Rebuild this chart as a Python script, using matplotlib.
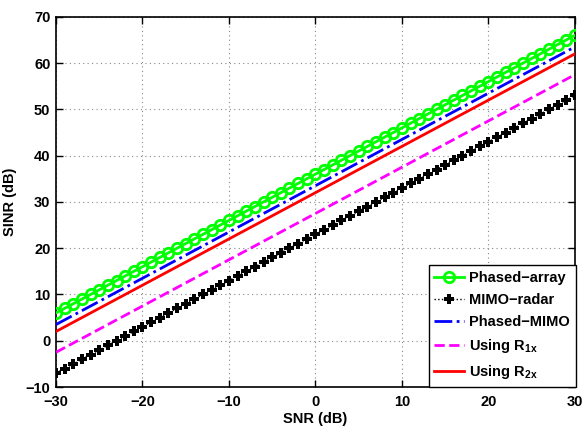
import matplotlib
matplotlib.use("Agg")
import matplotlib.pyplot as plt

plt.rcParams['font.family'] = ['Liberation Sans', 'DejaVu Sans']
plt.rcParams['font.weight'] = 'bold'
plt.rcParams['mathtext.fontset'] = 'custom'
plt.rcParams['mathtext.rm'] = 'Liberation Sans:bold'
plt.rcParams['mathtext.bf'] = 'Liberation Sans:bold'
plt.rcParams['mathtext.it'] = 'Liberation Sans:bold'
plt.rcParams['mathtext.default'] = 'bf'

snr = [-30, -29, -28, -27, -26, -25, -24, -23, -22, -21, -20, -19, -18, -17, -16, -15,
       -14, -13, -12, -11, -10, -9, -8, -7, -6, -5, -4, -3, -2, -1, 0, 1, 2, 3, 4, 5,
       6, 7, 8, 9, 10, 11, 12, 13, 14, 15, 16, 17, 18, 19, 20, 21, 22, 23, 24, 25, 26,
       27, 28, 29, 30]
phased_array = [6, 7, 8, 9, 10, 11, 12, 13, 14, 15, 16, 17, 18, 19, 20, 21, 22, 23, 24,
                25, 26, 27, 28, 29, 30, 31, 32, 33, 34, 35, 36, 37, 38, 39, 40, 41, 42,
                43, 44, 45, 46, 47, 48, 49, 50, 51, 52, 53, 54, 55, 56, 57, 58, 59, 60,
                61, 62, 63, 64, 65, 66]
mimo_radar = [-7, -6, -5, -4, -3, -2, -1, 0, 1, 2, 3, 4, 5, 6, 7, 8, 9, 10, 11, 12, 13,
              14, 15, 16, 17, 18, 19, 20, 21, 22, 23, 24, 25, 26, 27, 28, 29, 30, 31, 32,
              33, 34, 35, 36, 37, 38, 39, 40, 41, 42, 43, 44, 45, 46, 47, 48, 49, 50, 51,
              52, 53]
phased_mimo = [3.5, 4.5, 5.5, 6.5, 7.5, 8.5, 9.5, 10.5, 11.5, 12.5, 13.5, 14.5, 15.5,
               16.5, 17.5, 18.5, 19.5, 20.5, 21.5, 22.5, 23.5, 24.5, 25.5, 26.5, 27.5,
               28.5, 29.5, 30.5, 31.5, 32.5, 33.5, 34.5, 35.5, 36.5, 37.5, 38.5, 39.5,
               40.5, 41.5, 42.5, 43.5, 44.5, 45.5, 46.5, 47.5, 48.5, 49.5, 50.5, 51.5,
               52.5, 53.5, 54.5, 55.5, 56.5, 57.5, 58.5, 59.5, 60.5, 61.5, 62.5, 63.5]
using_r1x = [-2.5, -1.5, -0.5, 0.5, 1.5, 2.5, 3.5, 4.5, 5.5, 6.5, 7.5, 8.5, 9.5, 10.5,
             11.5, 12.5, 13.5, 14.5, 15.5, 16.5, 17.5, 18.5, 19.5, 20.5, 21.5, 22.5,
             23.5, 24.5, 25.5, 26.5, 27.5, 28.5, 29.5, 30.5, 31.5, 32.5, 33.5, 34.5,
             35.5, 36.5, 37.5, 38.5, 39.5, 40.5, 41.5, 42.5, 43.5, 44.5, 45.5, 46.5,
             47.5, 48.5, 49.5, 50.5, 51.5, 52.5, 53.5, 54.5, 55.5, 56.5, 57.5]
using_r2x = [2, 3, 4, 5, 6, 7, 8, 9, 10, 11, 12, 13, 14, 15, 16, 17, 18, 19, 20, 21, 22,
             23, 24, 25, 26, 27, 28, 29, 30, 31, 32, 33, 34, 35, 36, 37, 38, 39, 40, 41,
             42, 43, 44, 45, 46, 47, 48, 49, 50, 51, 52, 53, 54, 55, 56, 57, 58, 59, 60,
             61, 62]

xticks = [-30, -20, -10, 0, 10, 20, 30]
yticks = [-10, 0, 10, 20, 30, 40, 50, 60, 70]

fig = plt.figure(figsize=(5.85, 4.26), dpi=100)
ax = fig.add_axes([0.0957, 0.0915, 0.887, 0.869])

ax.plot(snr, phased_array, color=(0, 1, 0), lw=2, marker='o', ms=7.5,
        mfc='none', mew=2, label='Phased\u2212array', zorder=5)
ax.plot(snr, mimo_radar, color='black', lw=1, ls=':', marker='P', ms=7.5,
        mew=0, label='MIMO\u2212radar', zorder=4)
ax.plot(snr, phased_mimo, color='blue', lw=2, ls='-.', label='Phased\u2212MIMO', zorder=3)
ax.plot(snr, using_r1x, color='magenta', lw=2, ls='--', label=r'Using R$_{1x}$', zorder=3)
ax.plot(snr, using_r2x, color='red', lw=2, ls='-', label=r'Using R$_{2x}$', zorder=3)

ax.set_xlim(-30, 30)
ax.set_ylim(-10, 70)
ax.set_xticks(xticks)
ax.set_yticks(yticks)
ax.set_xticklabels([str(v).replace('-', '\u2212') for v in xticks])
ax.set_yticklabels([str(v).replace('-', '\u2212') for v in yticks])
ax.tick_params(direction='in', top=True, right=True, labelsize=10.5, length=5, width=1)
ax.tick_params(axis='x', pad=6)
ax.tick_params(axis='y', pad=4)
for lab in ax.get_xticklabels() + ax.get_yticklabels():
    lab.set_fontweight('bold')
ax.grid(True, color='#888888', ls=(0, (1, 3)), lw=0.8)
for s in ax.spines.values():
    s.set_linewidth(1.2)
ax.set_xlabel('SNR (dB)', fontsize=10.5, fontweight='bold', labelpad=2)
ax.set_ylabel('SINR (dB)', fontsize=10.5, fontweight='bold', labelpad=6)

leg = ax.legend(loc='lower right', bbox_to_anchor=(1.002, 0.0), fontsize=10.5,
                frameon=True, fancybox=False, edgecolor='black', framealpha=1,
                handlelength=2.0, borderaxespad=0.0, labelspacing=0.55,
                handletextpad=0.4, borderpad=0.4)
leg.get_frame().set_linewidth(1)
for t in leg.get_texts():
    t.set_fontweight('bold')

fig.savefig('out.png', dpi=100)
